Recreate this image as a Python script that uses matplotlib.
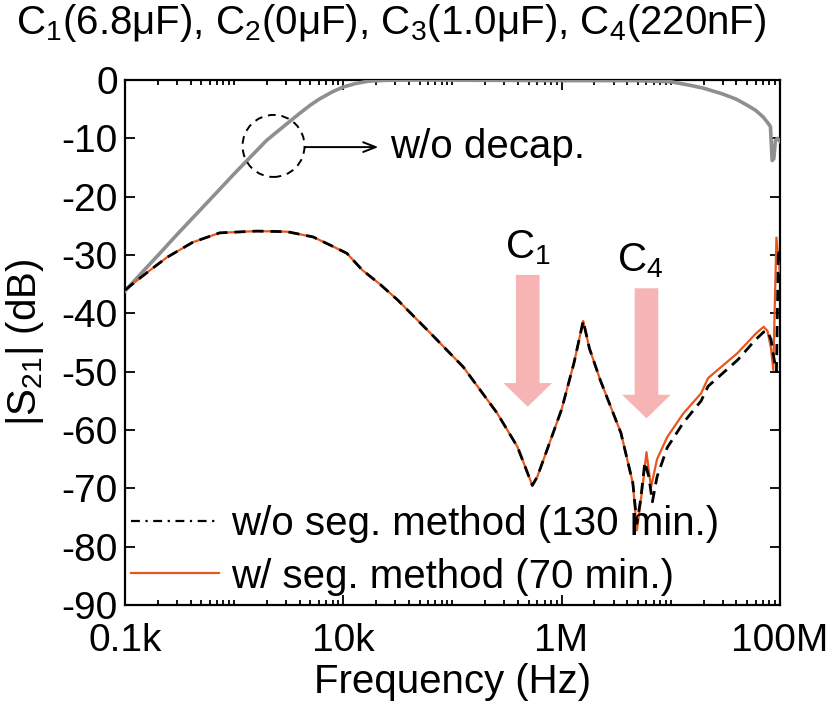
import matplotlib
matplotlib.use('Agg')
import matplotlib.pyplot as plt
from matplotlib.patches import Ellipse
from matplotlib.lines import Line2D
from matplotlib.ticker import FixedLocator, LogLocator, NullFormatter

plt.rcParams['font.family'] = ['Liberation Sans', 'DejaVu Sans']
plt.rcParams['mathtext.default'] = 'regular'
plt.rcParams['axes.unicode_minus'] = False

# |S21| without decoupling capacitors (grey)
freq_nodecap = [1e2, 1.5e2, 2e2, 3e2, 5e2, 7e2, 1e3, 1.5e3, 2e3, 3e3, 4e3, 5e3, 6e3,
                8e3, 1e4, 1.3e4, 1.7e4, 2.5e4, 5e4, 1e6, 5e6, 1e7, 1.5e7, 2e7, 3e7,
                4e7, 5e7, 6e7, 7e7, 7.8e7, 8.2e7, 8.5e7, 8.8e7, 9.1e7, 9.5e7, 1e8]
s21_nodecap = [-36.2, -32.6, -30.1, -26.5, -22.1, -19.2, -16.1, -12.7, -10.3, -7.6, -5.7,
               -4.3, -3.3, -2.0, -1.2, -0.6, -0.2, -0.05, 0.0, -0.1, -0.1, -0.3, -0.9,
               -1.4, -2.4, -3.3, -4.3, -5.2, -6.3, -7.4, -8.0, -13.8, -13.5, -10.4,
               -10.0, -10.5]

# |S21| with decaps, segmentation method (orange)
freq_seg = [1e2, 1.7e2, 2.43e2, 4.2e2, 7.4e2, 1.6e3, 3.06e3, 5.3e3, 7.6e3, 1.08e4, 1.5e4,
            2.17e4, 3.15e4, 6.3e4, 1.26e5, 2.57e5, 3.95e5, 4.8e5, 5.4e5, 6e5, 7.5e5,
            1e6, 1.3e6, 1.58e6, 1.8e6, 2.27e6, 3.5e6, 4.5e6, 4.9e6, 5.5e6, 6e6, 6.6e6,
            7.5e6, 9.3e6, 1.3e7, 1.9e7, 2.2e7, 4.1e7, 6e7, 7.1e7, 7.7e7, 8.3e7, 8.7e7,
            9.3e7, 1e8]
s21_seg = [-36.0, -32.6, -30.4, -27.8, -26.2, -25.9, -26.0, -26.9, -28.3, -29.7, -32.6,
           -35.0, -37.7, -43.4, -49.2, -57.1, -62.9, -67.0, -69.5, -68.0, -63.0, -56.5,
           -48.5, -41.3, -46.0, -51.5, -60.5, -69.1, -77.2, -70.0, -63.8, -69.8, -65.0,
           -61.2, -57.2, -53.7, -51.1, -46.8, -43.5, -42.3, -43.0, -46.0, -49.7, -27.0,
           -33.0]

# |S21| with decaps, full simulation without segmentation (black)
freq_full = [1e2, 1.7e2, 2.43e2, 4.2e2, 7.4e2, 1.6e3, 3.06e3, 5.3e3, 7.6e3, 1.08e4, 1.5e4,
             2.17e4, 3.15e4, 6.3e4, 1.26e5, 2.57e5, 3.95e5, 4.8e5, 5.4e5, 6e5, 7.5e5,
             1e6, 1.3e6, 1.58e6, 1.8e6, 2.27e6, 3.5e6, 4.5e6, 4.9e6, 5.3e6, 5.8e6, 6.3e6,
             6.8e6, 7.5e6, 9.3e6, 1.3e7, 1.9e7, 2.2e7, 4.1e7, 6e7, 7.1e7, 7.7e7, 8.3e7,
             8.7e7, 9.3e7, 9.7e7, 1e8]
s21_full = [-36.0, -32.6, -30.4, -27.8, -26.2, -25.9, -26.0, -26.9, -28.3, -29.7, -32.6,
            -35.0, -37.7, -43.4, -49.2, -57.1, -62.9, -67.0, -69.5, -68.0, -63.0, -56.5,
            -48.5, -41.3, -46.0, -51.5, -60.5, -69.1, -76.0, -72.0, -65.5, -68.0, -72.3,
            -68.0, -63.0, -58.8, -55.0, -52.5, -48.0, -44.5, -43.2, -43.0, -44.5, -47.0,
            -50.0, -29.0, -31.0]

xticks = [1e2, 1e4, 1e6, 1e8]
xticklabels = ['0.1k', '10k', '1M', '100M']
yticks = list(range(-90, 1, 10))

pink = '#f6b4b4'
orange = '#e8561e'
fs = 29

fig = plt.figure(figsize=(8.27, 7.05), dpi=100)
ax = fig.add_axes([0.151, 0.1418, 0.792, 0.7447])

ax.plot(freq_nodecap, s21_nodecap, color='#8f8f8f', lw=2.6, zorder=3)
ax.plot(freq_seg, s21_seg, color=orange, lw=1.6, zorder=4)
ax.plot(freq_full, s21_full, color='black', lw=2.0, ls=(0, (4, 2.5)), zorder=5)

ax.set_xscale('log')
ax.set_xlim(1e2, 1e8)
ax.set_ylim(-90, 0)
ax.xaxis.set_major_locator(FixedLocator(xticks))
ax.set_xticklabels(xticklabels)
ax.xaxis.set_minor_locator(LogLocator(base=10, subs='all', numticks=100))
ax.xaxis.set_minor_formatter(NullFormatter())
ax.set_yticks(yticks)
ax.tick_params(which='both', direction='in', top=True, right=True, labelsize=28, width=1.3)
ax.tick_params(which='major', length=7)
ax.tick_params(axis='x', which='major', pad=13)
ax.tick_params(axis='y', which='major', pad=5)
ax.tick_params(which='minor', length=3.5)
for s in ax.spines.values():
    s.set_linewidth(1.6)

ax.set_xlabel('Frequency (Hz)', fontsize=fs, labelpad=3)
ax.set_ylabel('|S$_{21}$| (dB)', fontsize=fs, labelpad=11)
fig.text(0.473, 0.968, 'C$_1$(6.8μF), C$_2$(0μF), C$_3$(1.0μF), C$_4$(220nF)',
         fontsize=fs, ha='center', va='center')

# pink arrows marking the C1 and C4 anti-resonances
arr = dict(arrowstyle='simple,head_width=35,head_length=17,tail_width=17',
           color=pink, mutation_scale=1, shrinkA=0, shrinkB=0, lw=0)
ax.annotate('', xy=(4.9e5, -56), xytext=(4.9e5, -33.4), arrowprops=arr, zorder=2)
ax.annotate('', xy=(6.0e6, -58), xytext=(6.0e6, -35.7), arrowprops=arr, zorder=2)
ax.text(4.9e5, -28.8, 'C$_1$', fontsize=fs, ha='center', va='center')
ax.text(5.3e6, -31, 'C$_4$', fontsize=fs, ha='center', va='center')

# dashed circle + arrow for the no-decap curve
cx, cy = ax.transAxes.inverted().transform(ax.transData.transform((2.3e3, -11.3)))
ax.add_patch(Ellipse((cx, cy), 62 / 655, 62 / 525, transform=ax.transAxes, fill=False,
                     ls=(0, (4, 3)), lw=1.4, color='black', zorder=6))
ax.annotate('', xy=(2.1e4, -11.5), xytext=(4.5e3, -11.5),
            arrowprops=dict(arrowstyle='->,head_width=0.35,head_length=0.9', lw=1.4,
                            color='black', shrinkA=0, shrinkB=0))
ax.text(2.7e4, -11.5, 'w/o decap.', fontsize=fs, va='center', ha='left')

handles = [Line2D([], [], color='black', lw=1.6, ls=(0, (4, 2.5, 1, 2.5))),
           Line2D([], [], color=orange, lw=1.6)]
ax.legend(handles, ['w/o seg. method (130 min.)', 'w/ seg. method (70 min.)'],
          loc='lower left', bbox_to_anchor=(-0.028, -0.028), frameon=False, fontsize=fs,
          handlelength=2.2, handletextpad=0.3, labelspacing=0.37, borderaxespad=0.2)

fig.savefig('out.png', dpi=100)
